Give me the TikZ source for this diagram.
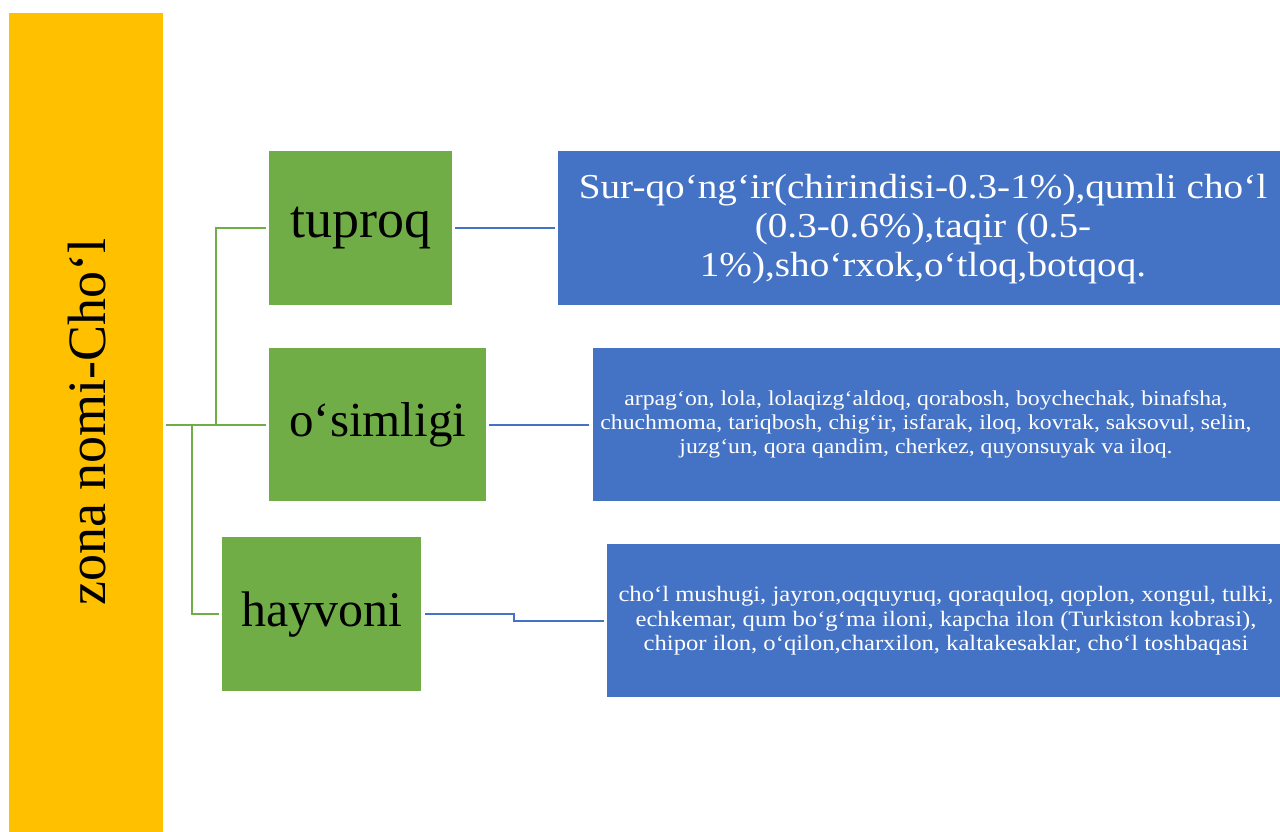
\documentclass[tikz,border=0pt]{standalone}
\usepackage{fontspec}
\setmainfont{Liberation Serif}
\newfontfamily\bluefont[FakeStretch=1.12]{Liberation Serif}
\usetikzlibrary{calc}
\definecolor{zyellow}{HTML}{FFC000}
\definecolor{zgreen}{HTML}{70AD47}
\definecolor{zblue}{HTML}{4472C4}
\tikzset{
  zonebox/.style={fill=zyellow, draw=none, inner sep=0pt, anchor=north west},
  gbox/.style={fill=zgreen, draw=none, inner sep=0pt, anchor=north west, text=black, font=\fontsize{50}{60}\selectfont},
  bbox/.style={fill=zblue, draw=none, inner sep=0pt, anchor=north west},
  btext/.style={text=white, align=center, inner sep=0pt},
  gline/.style={draw=zgreen, line width=2.2pt},
  bline/.style={draw=zblue, line width=2.2pt}
}
\begin{document}
\begin{tikzpicture}[x=1pt,y=-1pt]
\useasboundingbox (0,0) rectangle (1280,832);
% left zone
\node[zonebox, minimum width=154, minimum height=819] (zone) at (9,13) {};
\node[rotate=90, inner sep=0pt, font=\fontsize{54}{60}\selectfont] (zt) at (87,422) {zona nomi-Cho‘l};
% green boxes
\node[gbox, minimum width=183, minimum height=154, font=\fontsize{54}{60}\selectfont] (tup) at (269,151) {tuproq};
\node[gbox, minimum width=217, minimum height=153, font=\fontsize{49}{60}\selectfont] (osim) at (269,348) {o‘simligi};
\node[gbox, minimum width=199, minimum height=154] (hay) at (222,537) {hayvoni};
% blue boxes
\node[bbox, minimum width=740, minimum height=154] (b1) at (558,151) {};
\node[bbox, minimum width=705, minimum height=153] (b2) at (593,348) {};
\node[bbox, minimum width=690, minimum height=153] (b3) at (607,544) {};
\node[btext, font=\bluefont\fontsize{35}{39}\selectfont] (t1) at (923,229)
  {Sur-qo‘ng‘ir(chirindisi-0.3-1\%),qumli cho‘l\\(0.3-0.6\%),taqir (0.5-\\1\%),sho‘rxok,o‘tloq,botqoq.};
\node[btext, font=\bluefont\fontsize{21.2}{24}\selectfont] (t2) at (926,424)
  {arpag‘on, lola, lolaqizg‘aldoq, qorabosh, boychechak, binafsha,\\chuchmoma, tariqbosh, chig‘ir, isfarak, iloq, kovrak, saksovul, selin,\\juzg‘un, qora qandim, cherkez, quyonsuyak va iloq.};
\node[btext, font=\bluefont\fontsize{22}{24.5}\selectfont] (t3) at (946,621)
  {cho‘l mushugi, jayron,oqquyruq, qoraquloq, qoplon, xongul, tulki,\\echkemar, qum bo‘g‘ma iloni, kapcha ilon (Turkiston kobrasi),\\chipor ilon, o‘qilon,charxilon, kaltakesaklar, cho‘l toshbaqasi};
% green connectors
\coordinate (j1) at (216,424.5);
\coordinate (j2) at (192,424.5);
\draw[gline] ([xshift=3pt]zone.east |- osim.west) -- ([xshift=-3pt]osim.west);
\draw[gline] (j1) |- ([xshift=-3pt]tup.west);
\draw[gline] (j2) |- ([xshift=-3pt]hay.west);
% blue connectors
\draw[bline] ([xshift=3pt]tup.east) -- ([xshift=-3pt]b1.west);
\draw[bline] ([xshift=3pt]osim.east) -- ([xshift=-4pt]b2.west);
\coordinate (m) at ($(hay.east)!0.5!(b3.west)$);
\draw[bline] ([xshift=4pt]hay.east) -| (m) |- ([xshift=-3pt]b3.west);
\end{tikzpicture}
\end{document}
